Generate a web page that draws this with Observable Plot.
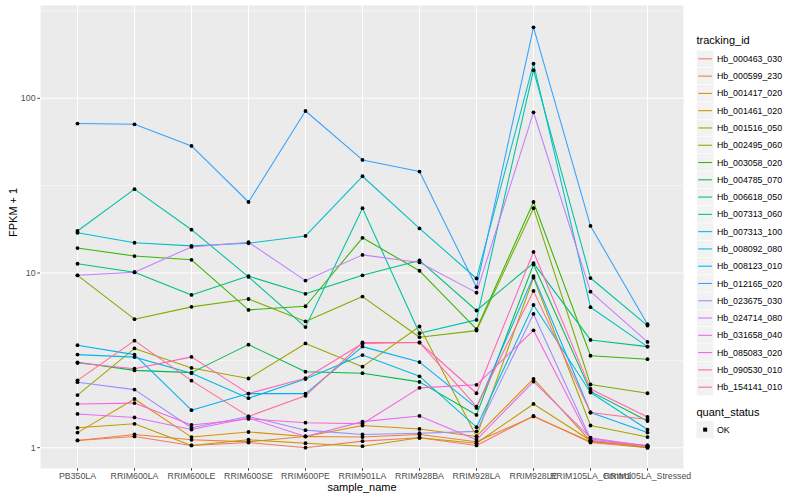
<!DOCTYPE html>
<html>
<head>
<meta charset="utf-8">
<script src="https://cdn.jsdelivr.net/npm/d3@7"></script>
<script src="https://cdn.jsdelivr.net/npm/@observablehq/plot@0.6"></script>
<style>
  body { margin: 0; background: #fff; font-family: "Liberation Sans", Arial, sans-serif; }
  #wrap { position: relative; width: 800px; height: 500px; overflow: hidden; }
  #chart { position: absolute; left: 0; top: 0; }
  #legend { position: absolute; left: 0; top: 0; width: 800px; height: 500px; pointer-events: none; }
</style>
</head>
<body>
<div id="wrap"><div id="chart"></div><svg id="legend" width="800" height="500"></svg></div>
<script>
// ---- data ----
const samples = ["PB350LA","RRIM600LA","RRIM600LE","RRIM600SE","RRIM600PE","RRIM901LA","RRIM928BA","RRIM928LA","RRIM928LE","RRIM105LA_Control","RRIM105LA_Stressed"];
const trackingIds = ["Hb_000463_030","Hb_000599_230","Hb_001417_020","Hb_001461_020","Hb_001516_050","Hb_002495_060","Hb_003058_020","Hb_004785_070","Hb_006618_050","Hb_007313_060","Hb_007313_100","Hb_008092_080","Hb_008123_010","Hb_012165_020","Hb_023675_030","Hb_024714_080","Hb_031658_040","Hb_085083_020","Hb_090530_010","Hb_154141_010"];
const yTicks = [1, 10, 100];
const yMinor = [3.162, 31.62, 316.2];
const quantStatus = ["OK"];

const Hb_000463_030 = [1.10, 1.16, 1.03, 1.07, 1.00, 1.09, 1.14, 1.03, 1.52, 1.07, 1.00];
const Hb_000599_230 = [1.10, 1.19, 1.11, 1.08, 1.16, 1.15, 1.19, 1.08, 1.51, 1.08, 1.02];
const Hb_001417_020 = [1.22, 1.90, 1.15, 1.23, 1.16, 1.34, 1.28, 1.16, 2.48, 1.09, 1.01];
const Hb_001461_020 = [1.30, 1.37, 1.03, 1.11, 1.06, 1.02, 1.14, 1.06, 1.78, 1.10, 1.00];
const Hb_001516_050 = [2.00, 3.70, 2.86, 2.49, 3.95, 2.91, 4.94, 1.16, 9.40, 1.34, 1.15];
const Hb_002495_060 = [9.70, 5.44, 6.40, 7.10, 5.28, 7.33, 4.29, 4.68, 23.5, 2.30, 2.05];
const Hb_003058_020 = [13.9, 12.5, 11.9, 6.15, 6.45, 15.9, 10.3, 4.77, 25.5, 3.36, 3.21];
const Hb_004785_070 = [3.08, 2.77, 2.69, 3.89, 2.72, 2.67, 2.38, 1.54, 11.2, 2.10, 1.42];
const Hb_006618_050 = [11.3, 10.1, 7.49, 9.60, 7.60, 9.70, 11.8, 6.10, 11.4, 4.14, 3.79];
const Hb_007313_060 = [17.4, 30.2, 17.7, 9.50, 4.90, 23.5, 4.52, 5.39, 145, 9.36, 5.00];
const Hb_007313_100 = [17.0, 14.9, 14.3, 14.8, 16.3, 35.8, 18.0, 9.30, 158, 6.37, 3.79];
const Hb_008092_080 = [3.41, 3.30, 2.67, 1.92, 2.47, 3.39, 2.56, 1.31, 6.56, 2.07, 1.27];
const Hb_008123_010 = [3.86, 3.41, 1.64, 2.04, 2.04, 3.79, 3.09, 1.69, 9.60, 1.59, 1.22];
const Hb_012165_020 = [71.7, 71.0, 53.4, 25.5, 84.6, 44.4, 38.1, 8.30, 255, 18.6, 5.09];
const Hb_023675_030 = [2.37, 2.15, 1.30, 1.51, 1.26, 1.19, 1.21, 1.24, 5.83, 1.12, 1.03];
const Hb_024714_080 = [9.70, 10.1, 14.1, 15.0, 9.05, 12.7, 11.5, 7.72, 83.2, 7.82, 4.03];
const Hb_031658_040 = [1.56, 1.49, 1.27, 1.48, 1.16, 1.41, 1.52, 1.11, 2.39, 1.14, 1.02];
const Hb_085083_020 = [1.78, 1.80, 1.35, 1.46, 1.39, 1.37, 2.20, 2.29, 4.70, 1.10, 1.03];
const Hb_090530_010 = [3.05, 2.83, 3.31, 2.04, 2.50, 3.95, 4.00, 2.05, 13.2, 2.17, 1.50];
const Hb_154141_010 = [2.43, 4.10, 2.42, 1.51, 1.98, 4.00, 4.00, 1.72, 7.90, 1.59, 1.45];

const seriesValues = [Hb_000463_030, Hb_000599_230, Hb_001417_020, Hb_001461_020, Hb_001516_050, Hb_002495_060, Hb_003058_020, Hb_004785_070, Hb_006618_050, Hb_007313_060, Hb_007313_100, Hb_008092_080, Hb_008123_010, Hb_012165_020, Hb_023675_030, Hb_024714_080, Hb_031658_040, Hb_085083_020, Hb_090530_010, Hb_154141_010];

// ggplot2 default hue palette (20 levels)
const hueColors = ["#F8766D","#EA8331","#D89000","#C09B00","#A3A500","#7CAE00","#39B600","#00BB4E","#00BF7D","#00C1A3","#00BFC4","#00BAE0","#00B0F6","#35A2FF","#9590FF","#C77CFF","#E76BF3","#FA62DB","#FF62BC","#FF6C90"];

const data = [];
trackingIds.forEach((id, i) => {
  seriesValues[i].forEach((v, j) => data.push({tracking_id: id, sample_name: samples[j], value: v, quant_status: "OK"}));
});

const FONT = "Liberation Sans, Arial, Helvetica, sans-serif";

const chart = Plot.plot({
  width: 690,
  height: 500,
  marginLeft: 40,
  marginRight: 7,
  marginTop: 5,
  marginBottom: 32,
  style: {fontFamily: FONT, fontSize: "8.8px", background: "white", overflow: "visible"},
  x: {type: "point", domain: samples, padding: 0.6, label: null},
  y: {type: "log", domain: [0.76, 340], label: null},
  color: {domain: trackingIds, range: hueColors},
  marks: [
    Plot.frame({fill: "#EBEBEB", stroke: null}),
    Plot.ruleY(yMinor, {stroke: "white", strokeWidth: 0.55}),
    Plot.ruleY(yTicks, {stroke: "white", strokeWidth: 1.07}),
    Plot.ruleX(samples, {stroke: "white", strokeWidth: 1.07}),
    Plot.line(data, {x: "sample_name", y: "value", z: "tracking_id", stroke: "tracking_id", strokeWidth: 1.07}),
    Plot.dot(data, {x: "sample_name", y: "value", fill: "black", r: 1.9}),
    Plot.axisY({ticks: yTicks, tickFormat: d => String(d), tickSize: 2.75, tickPadding: 2.2, label: null, color: "#4D4D4D"}),
    Plot.axisX({tickSize: 2.75, tickPadding: 1.4, label: null, color: "#4D4D4D"}),
    Plot.text(["sample_name"], {text: d => d, frameAnchor: "bottom", dy: 22.5, fontSize: 11, fill: "black"}),
    Plot.text(["FPKM + 1"], {text: d => d, frameAnchor: "left", dx: -27, rotate: -90, fontSize: 11, fill: "black"})
  ]
});
document.getElementById("chart").appendChild(chart);

// ---- legend ----
const lg = d3.select("#legend").style("font-family", FONT);
const lx = 696.5, keyW = 17.28, keyH = 17.28, top0 = 50.2;
lg.append("text").attr("x", lx).attr("y", 40).attr("dy", "0.35em").attr("font-size", 11).text("tracking_id");
const rows = lg.selectAll("g.row").data(trackingIds).join("g").attr("class", "row")
  .attr("transform", (d, i) => `translate(${lx},${top0 + i * keyH})`);
rows.append("rect").attr("width", keyW).attr("height", keyH).attr("fill", "#F2F2F2").attr("stroke", "white").attr("stroke-width", 0.5);
rows.append("line").attr("x1", 1.7).attr("x2", keyW - 1.7).attr("y1", keyH / 2).attr("y2", keyH / 2)
  .attr("stroke", (d, i) => hueColors[i]).attr("stroke-width", 1.07);
rows.append("text").attr("x", keyW + 3.2).attr("y", keyH / 2).attr("dy", "0.35em").attr("font-size", 8.8).text(d => d);

const qTop = 412;
lg.append("text").attr("x", lx).attr("y", qTop).attr("dy", "0.35em").attr("font-size", 11).text("quant_status");
const q = lg.selectAll("g.q").data(quantStatus).join("g").attr("class", "q")
  .attr("transform", (d, i) => `translate(${lx},${421 + i * keyH})`);
q.append("rect").attr("width", keyW).attr("height", keyH).attr("fill", "#F2F2F2");
q.append("rect").attr("x", keyW / 2 - 2).attr("y", keyH / 2 - 2).attr("width", 4).attr("height", 4).attr("fill", "black");
q.append("text").attr("x", keyW + 3.2).attr("y", keyH / 2).attr("dy", "0.35em").attr("font-size", 8.8).text(d => d);
</script>
</body>
</html>
